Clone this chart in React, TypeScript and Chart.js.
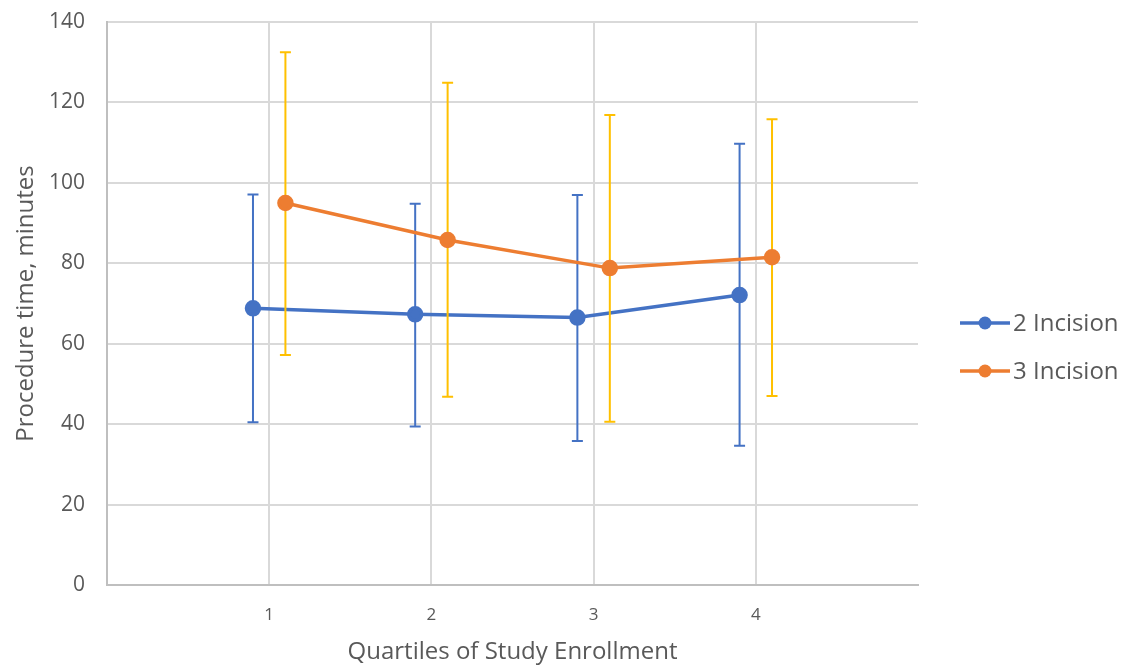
import { useEffect, useRef } from "react";
import { Chart, registerables } from "chart.js";

Chart.register(...registerables);

const quartiles = [1, 2, 3, 4];
const xTickLabels = ["1", "2", "3", "4"];
const seriesNames = ["2 Incision", "3 Incision"];
const twoMean = [68.8, 67.3, 66.5, 72.1];
const twoUpper = [97.1, 94.8, 97.0, 109.7];
const twoLower = [40.5, 39.4, 35.8, 34.6];
const threeMean = [95.0, 85.8, 78.8, 81.5];
const threeUpper = [132.5, 124.9, 116.9, 115.8];
const threeLower = [57.2, 46.8, 40.6, 47.0];
const DODGE = 0.1;

const BLUE = "#4472C4";
const ORANGE = "#ED7D31";
const YELLOW = "#FFC000";
const TEXT = "#595959";
const FONT = "'Open Sans', sans-serif";

const errorBarPlugin = {
  id: "errorBars",
  beforeDatasetDraw(chart: any, args: any) {
    const ds: any = chart.data.datasets[args.index];
    if (!ds.errUpper) return;
    const ctx = chart.ctx;
    const xs = chart.scales.x;
    const ys = chart.scales.y;
    ctx.save();
    ctx.strokeStyle = ds.errColor;
    ctx.lineWidth = 2;
    ds.data.forEach((p: any, i: number) => {
      const x = xs.getPixelForValue(p.x);
      const yt = ys.getPixelForValue(ds.errUpper[i]);
      const yb = ys.getPixelForValue(ds.errLower[i]);
      ctx.beginPath();
      ctx.moveTo(x, yt);
      ctx.lineTo(x, yb);
      ctx.moveTo(x - 5.5, yt);
      ctx.lineTo(x + 5.5, yt);
      ctx.moveTo(x - 5.5, yb);
      ctx.lineTo(x + 5.5, yb);
      ctx.stroke();
    });
    ctx.restore();
  },
};

const legendPlugin = {
  id: "customLegend",
  afterDraw(chart: any) {
    const ctx = chart.ctx;
    const area = chart.chartArea;
    const x0 = area.right + 42;
    const yCenter = 347;
    const gap = 48;
    ctx.save();
    chart.data.datasets.forEach((ds: any, i: number) => {
      const y = yCenter - gap / 2 + i * gap;
      ctx.strokeStyle = ds.borderColor;
      ctx.lineWidth = 3.5;
      ctx.beginPath();
      ctx.moveTo(x0, y);
      ctx.lineTo(x0 + 50, y);
      ctx.stroke();
      ctx.fillStyle = ds.pointBackgroundColor;
      ctx.beginPath();
      ctx.arc(x0 + 25, y, 6.5, 0, Math.PI * 2);
      ctx.fill();
      ctx.fillStyle = TEXT;
      ctx.font = `24px ${FONT}`;
      ctx.textBaseline = "middle";
      ctx.textAlign = "left";
      ctx.fillText(ds.label, x0 + 53, y + 1);
    });
    ctx.restore();
  },
};

export default function App() {
  const ref = useRef<HTMLCanvasElement | null>(null);

  useEffect(() => {
    document.body.style.margin = "0";
    if (!ref.current) return;
    const chart = new Chart(ref.current, {
      type: "line",
      data: {
        datasets: [
          {
            label: seriesNames[0],
            data: quartiles.map((q, i) => ({ x: q - DODGE, y: twoMean[i] })),
            borderColor: BLUE,
            backgroundColor: BLUE,
            pointBackgroundColor: BLUE,
            pointBorderColor: BLUE,
            borderWidth: 3.5,
            pointRadius: 6.5,
            pointHoverRadius: 6.5,
            order: 1,
            errUpper: twoUpper,
            errLower: twoLower,
            errColor: BLUE,
          } as any,
          {
            label: seriesNames[1],
            data: quartiles.map((q, i) => ({ x: q + DODGE, y: threeMean[i] })),
            borderColor: ORANGE,
            backgroundColor: ORANGE,
            pointBackgroundColor: ORANGE,
            pointBorderColor: ORANGE,
            borderWidth: 3.5,
            pointRadius: 6.5,
            pointHoverRadius: 6.5,
            order: 0,
            errUpper: threeUpper,
            errLower: threeLower,
            errColor: YELLOW,
          } as any,
        ],
      },
      options: {
        responsive: false,
        animation: false,
        layout: { padding: { top: 22, right: 209, bottom: 0, left: 0 } },
        plugins: {
          legend: { display: false },
          tooltip: { enabled: false },
        },
        scales: {
          x: {
            type: "linear",
            min: 0,
            max: 5,
            afterFit: (s: any) => {
              s.height = 80;
              s.paddingLeft = 0;
              s.paddingRight = 0;
            },
            afterBuildTicks: (s: any) => {
              s.ticks = [0, ...quartiles, 5].map((v) => ({ value: v }));
            },
            ticks: {
              autoSkip: false,
              maxRotation: 0,
              padding: 20,
              color: TEXT,
              font: { family: FONT, size: 17 },
              callback: (v: any) => {
                const idx = quartiles.indexOf(Number(v));
                return idx >= 0 ? xTickLabels[idx] : "";
              },
            },
            grid: {
              drawTicks: false,
              lineWidth: 2,
              color: (c: any) =>
                c.tick && (c.tick.value === 0 || c.tick.value === 5)
                  ? "rgba(0,0,0,0)"
                  : "#D9D9D9",
            },
            border: { display: true, color: "#BFBFBF", width: 2 },
            title: {
              display: true,
              text: "Quartiles of Study Enrollment",
              color: TEXT,
              font: { family: FONT, size: 24 },
              padding: { top: 0, bottom: -2 },
            },
          },
          y: {
            type: "linear",
            min: 0,
            max: 140,
            afterFit: (s: any) => {
              s.width = 107;
              s.paddingTop = 0;
              s.paddingBottom = 0;
            },
            ticks: {
              stepSize: 20,
              padding: 22,
              color: TEXT,
              font: { family: FONT, size: 21 },
            },
            grid: {
              drawTicks: false,
              lineWidth: 2,
              color: (c: any) =>
                c.tick && c.tick.value === 0 ? "rgba(0,0,0,0)" : "#D9D9D9",
            },
            border: { display: true, color: "#BFBFBF", width: 2 },
            title: {
              display: true,
              text: "Procedure time, minutes",
              color: TEXT,
              font: { family: FONT, size: 24 },
              padding: { top: 12, bottom: 0 },
            },
          },
        },
      },
      plugins: [errorBarPlugin, legendPlugin],
    });
    return () => chart.destroy();
  }, []);

  return (
    <div style={{ width: 1127, height: 665, background: "#fff" }}>
      <canvas ref={ref} width={1127} height={665} style={{ display: "block" }} />
    </div>
  );
}
